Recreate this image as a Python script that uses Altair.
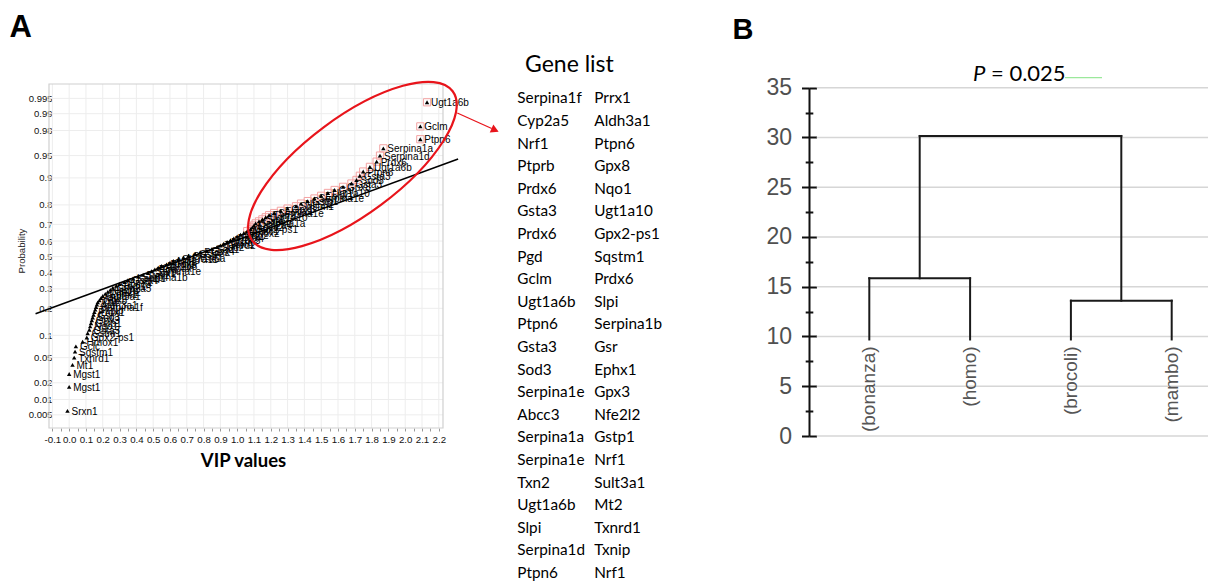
import altair as alt
import pandas as pd
from statistics import NormalDist

W, H = 1200, 576
nd = NormalDist()

# ---------------- Panel A : normal probability plot of VIP values ----------------
vip = [-0.01, 0.0, 0.0, 0.02, 0.03, 0.035, 0.04, 0.08, 0.105, 0.11,
       0.12, 0.125, 0.13, 0.135, 0.14, 0.145, 0.15, 0.155, 0.16, 0.165,
       0.17, 0.18, 0.19, 0.20, 0.215, 0.23, 0.245, 0.26, 0.28, 0.30,
       0.33, 0.35, 0.38, 0.41, 0.44, 0.47, 0.49, 0.51, 0.53, 0.55,
       0.58, 0.60, 0.62, 0.65, 0.68, 0.71, 0.75, 0.78, 0.82, 0.85,
       0.88, 0.90, 0.92, 0.94, 0.96, 0.98, 1.00, 1.02, 1.04, 1.06,
       1.08, 1.09, 1.10, 1.11, 1.13, 1.15, 1.17, 1.19, 1.22, 1.26,
       1.30, 1.35, 1.38, 1.42, 1.46, 1.50, 1.54, 1.58, 1.63, 1.68,
       1.71, 1.73, 1.75, 1.79, 1.83, 1.85, 1.87, 2.09, 2.09, 2.13]
prob = [0.006, 0.017, 0.028, 0.039, 0.05, 0.061, 0.072, 0.083, 0.094, 0.106,
        0.117, 0.128, 0.139, 0.15, 0.161, 0.172, 0.183, 0.194, 0.206, 0.217,
        0.228, 0.239, 0.25, 0.261, 0.272, 0.283, 0.294, 0.306, 0.317, 0.328,
        0.339, 0.35, 0.361, 0.372, 0.383, 0.394, 0.406, 0.417, 0.428, 0.439,
        0.45, 0.461, 0.472, 0.483, 0.494, 0.506, 0.517, 0.528, 0.539, 0.55,
        0.561, 0.572, 0.583, 0.594, 0.606, 0.617, 0.628, 0.639, 0.65, 0.661,
        0.672, 0.683, 0.694, 0.706, 0.717, 0.728, 0.739, 0.75, 0.761, 0.772,
        0.783, 0.794, 0.806, 0.817, 0.828, 0.839, 0.85, 0.861, 0.872, 0.883,
        0.894, 0.906, 0.917, 0.928, 0.939, 0.95, 0.961, 0.972, 0.983, 0.994]
pt_gene = ["Srxn1", "Mgst1", "Mgst1", "Mt1", "Txnrd1", "Sqstm1", "Gclc", "Hmox1", "Gpx2-ps1", "Gstm1",
           "Gsta3", "Nqo1", "Gstp1", "Gpx3", "Sod3", "Gsr", "Prdx1", "Txnip", "Serpina1f", "Aldh3a1",
           "Cat", "Gpx8", "Mt2", "Sult3a1", "Ephx1", "Nfe2l2", "Ptprb", "Cyp2a5", "Srxn1", "Abcc3",
           "Prrx1", "Gsta4", "Keap1", "Serpina1b", "Txn1", "Gpx1", "Serpina1e", "Pgd", "G6pdx", "Akr1b8",
           "Prdx6", "Gclc", "Nrf1", "Slc7a11", "Ugt1a6a", "Ces1g", "Gss", "Prdx2", "Gpx4", "Sod1",
           "Sod2", "Txnrd2", "Gsto1", "Msra", "Prdx3", "Prdx4", "Glrx", "Nqo2", "Hmox2", "Abcc1",
           "Gpx2-ps1", "Abcc2", "Cyp2a4", "Serpina1a", "Gsta1", "Slpi", "Ugt1a10", "Txn2", "Serpina1e", "Ephx1",
           "Gpx3", "Sqstm1", "Nfe2l2", "Gstp1", "Serpina1e", "Ephx1", "Ugt1a10", "Gsr", "Gpx8", "Gsta3",
           "Sod3", "Gsta3", "Ptpn6", "Ugt1a6b", "Prdx6", "Serpina1d", "Serpina1a", "Ptpn6", "Gclm", "Ugt1a6b"]
assert len(vip) == len(prob) == len(pt_gene)

prob_ticks = [0.005, 0.01, 0.02, 0.05, 0.1, 0.2, 0.3, 0.4, 0.5, 0.6, 0.7, 0.8, 0.9, 0.95, 0.98, 0.99, 0.995]
vip_grid = [-0.1, 0.0, 0.1, 0.2, 0.3, 0.4, 0.5, 0.6, 0.7, 0.8, 0.9, 1.0, 1.1, 1.2,
            1.3, 1.4, 1.5, 1.6, 1.7, 1.8, 1.9, 2.0, 2.1, 2.2]
vip_ticks = sorted(set([round(v, 2) for v in vip_grid] + [round(v + 0.05, 2) for v in vip_grid[:-1]]))

fit_vip = [-0.20, 2.315]
fit_prob = [0.176, 0.944]
ellipse_vip = [1.686]
ellipse_prob = [0.930]
arrow_vip = [2.31, 2.515]
arrow_prob = [0.9903, 0.9815]
arrowhead_vip = [2.535]
arrowhead_prob = [0.9803]

dfA = pd.DataFrame({"vip": vip, "prob": prob, "gene": pt_gene})
dfA["z"] = [nd.inv_cdf(p) for p in dfA["prob"]]
df_box = dfA[dfA["vip"] >= 1.06]
df_pticks = pd.DataFrame({"z": [nd.inv_cdf(p) for p in prob_ticks]})
df_vgrid = pd.DataFrame({"v": vip_grid})
df_vticks = pd.DataFrame({"v": vip_ticks})
df_fit = pd.DataFrame({"vip": fit_vip, "z": [nd.inv_cdf(p) for p in fit_prob]})
df_ell = pd.DataFrame({"vip": ellipse_vip, "z": [nd.inv_cdf(p) for p in ellipse_prob]})
df_arrow = pd.DataFrame({"vip": arrow_vip, "z": [nd.inv_cdf(p) for p in arrow_prob]})
df_head = pd.DataFrame({"vip": arrowhead_vip, "z": [nd.inv_cdf(p) for p in arrowhead_prob]})

# ---------------- Gene list ----------------
genes_col1 = ["Serpina1f", "Cyp2a5", "Nrf1", "Ptprb", "Prdx6", "Gsta3", "Prdx6", "Pgd", "Gclm", "Ugt1a6b",
              "Ptpn6", "Gsta3", "Sod3", "Serpina1e", "Abcc3", "Serpina1a", "Serpina1e", "Txn2", "Ugt1a6b",
              "Slpi", "Serpina1d", "Ptpn6"]
genes_col2 = ["Prrx1", "Aldh3a1", "Ptpn6", "Gpx8", "Nqo1", "Ugt1a10", "Gpx2-ps1", "Sqstm1", "Prdx6", "Slpi",
              "Serpina1b", "Gsr", "Ephx1", "Gpx3", "Nfe2l2", "Gstp1", "Nrf1", "Sult3a1", "Mt2", "Txnrd1",
              "Txnip", "Nrf1"]
df_genes = pd.DataFrame({
    "row": list(range(len(genes_col1))) + list(range(len(genes_col2))),
    "col": [0] * len(genes_col1) + [1] * len(genes_col2),
    "name": genes_col1 + genes_col2,
})

# ---------------- Panel B : dendrogram ----------------
leaf_names = ["(bonanza)", "(homo)", "(brocoli)", "(mambo)"]
leaf_pos = [1, 2, 3, 4]
leaf_base = 9.7
merge_left = 15.85   # bonanza + homo
merge_right = 13.6   # brocoli + mambo
merge_root = 30.15
b_ticks = [0, 5, 10, 15, 20, 25, 30, 35]
b_minor = [2.5, 7.5, 12.5, 17.5, 22.5, 27.5, 32.5]

mid_l = (leaf_pos[0] + leaf_pos[1]) / 2
mid_r = (leaf_pos[2] + leaf_pos[3]) / 2
segs = [
    (leaf_pos[0], leaf_pos[0], leaf_base, merge_left),
    (leaf_pos[1], leaf_pos[1], leaf_base, merge_left),
    (leaf_pos[0], leaf_pos[1], merge_left, merge_left),
    (leaf_pos[2], leaf_pos[2], leaf_base, merge_right),
    (leaf_pos[3], leaf_pos[3], leaf_base, merge_right),
    (leaf_pos[2], leaf_pos[3], merge_right, merge_right),
    (mid_l, mid_l, merge_left, merge_root),
    (mid_r, mid_r, merge_right, merge_root),
    (mid_l, mid_r, merge_root, merge_root),
]
df_seg = pd.DataFrame(segs, columns=["x", "x2", "y", "y2"])
df_leaf = pd.DataFrame({"pos": leaf_pos, "name": leaf_names, "base": [leaf_base] * 4})
df_bt = pd.DataFrame({"g": b_ticks})
df_bm = pd.DataFrame({"g": b_minor})

ONE = alt.Data(values=[{"k": 1}])

# ---------------- scales ----------------
xA = alt.Scale(domain=[-0.12, 2.225], range=[41, 435], nice=False, zero=False)
yA = alt.Scale(domain=[-2.79, 2.81], range=[420, 76], nice=False, zero=False)
xG = alt.Scale(domain=[0, 1], range=[509.3, 586.3], nice=False, zero=False)
yG = alt.Scale(domain=[0, 21], range=[90.3, 564.9], nice=False, zero=False)
xB = alt.Scale(domain=[1, 4], range=[861.3, 1163.7], nice=False, zero=False)
yB = alt.Scale(domain=[0, 35], range=[428, 79.7], nice=False, zero=False)

ARIAL = "Liberation Sans"
CAL = "Lato"

layers = []

# --- Panel A grid, frame and axes ---
layers.append(alt.Chart(df_vgrid).mark_rule(color="#ededed", strokeWidth=1).encode(
    x=alt.X("v:Q", scale=xA, axis=None), y=alt.value(76), y2=alt.value(420)))

axis_yA = alt.Axis(orient="left", offset=-41, values=list(df_pticks["z"]),
                   labelExpr="toString(round(cumulativeNormal(datum.value)*1000)/1000)",
                   ticks=False, tickSize=0, domain=False, grid=False, labelOverlap=False,
                   labelFont=ARIAL, labelFontSize=9.5, labelColor="#111", labelPadding=-3,
                   title="Probability", titleFont=ARIAL, titleFontSize=9.6, titleFontWeight="normal",
                   titleColor="#222", titleAngle=270, titleX=-28, titleY=242.5,
                   titleAlign="center", titleBaseline="middle")
layers.append(alt.Chart(df_pticks).mark_rule(color="#ededed", strokeWidth=1).encode(
    y=alt.Y("z:Q", scale=yA, axis=axis_yA), x=alt.value(41), x2=alt.value(435)))

layers.append(alt.Chart(ONE).mark_rect(fillOpacity=0, stroke="#d0d0d0", strokeWidth=1.2).encode(
    x=alt.value(41), x2=alt.value(435), y=alt.value(76), y2=alt.value(420)))

axis_xA = alt.Axis(orient="bottom", offset=-(H - 420), values=vip_ticks,
                   labelExpr="round(datum.value*20) % 2 == 0 ? replace(format(datum.value, '.1f'), '\u2212', '-') : ''",
                   ticks=True, tickSize=3, tickColor="#9a9a9a", domain=False, grid=False,
                   labelOverlap=False, labelFlush=False, labelBound=False,
                   labelFont=ARIAL, labelFontSize=9.7, labelColor="#111", labelPadding=3,
                   title="VIP values", titleFont=CAL, titleFontSize=18.5, titleFontWeight="bold",
                   titleColor="#000", titleX=235, titleY=38, titleAlign="center",
                   titleBaseline="alphabetic")
layers.append(alt.Chart(df_vticks).mark_point(opacity=0).encode(
    x=alt.X("v:Q", scale=xA, axis=axis_xA)))

# --- Panel A points ---
layers.append(alt.Chart(df_box).mark_point(shape="square", filled=False, color="#f4a3a3",
                                           size=52, strokeWidth=1, opacity=1).encode(
    x=alt.X("vip:Q", scale=xA, axis=None), y=alt.Y("z:Q", scale=yA, axis=None)))
layers.append(alt.Chart(dfA).mark_point(shape="triangle-up", filled=True, color="#000",
                                        size=20, opacity=1).encode(
    x=alt.X("vip:Q", scale=xA, axis=None), y=alt.Y("z:Q", scale=yA, axis=None)))
layers.append(alt.Chart(dfA).mark_text(align="left", baseline="middle", dx=4, dy=1,
                                       font=ARIAL, fontSize=10, color="#000").encode(
    x=alt.X("vip:Q", scale=xA, axis=None), y=alt.Y("z:Q", scale=yA, axis=None), text="gene:N"))

layers.append(alt.Chart(df_fit).mark_line(color="#000", strokeWidth=1.6).encode(
    x=alt.X("vip:Q", scale=xA, axis=None), y=alt.Y("z:Q", scale=yA, axis=None)))

r, k = 0.386, 0.5523
kr = round(k * r, 4)
ell_path = (f"M 1 0 C 1 {kr} {k} {r} 0 {r} C {-k} {r} -1 {kr} -1 0 "
            f"C -1 {-kr} {-k} {-r} 0 {-r} C {k} {-r} 1 {-kr} 1 0 Z")
layers.append(alt.Chart(df_ell).mark_point(shape=ell_path, filled=False, color="#e8141b",
                                           strokeWidth=2.2, size=62500, angle=323.3, opacity=1).encode(
    x=alt.X("vip:Q", scale=xA, axis=None), y=alt.Y("z:Q", scale=yA, axis=None)))
layers.append(alt.Chart(df_arrow).mark_line(color="#e8141b", strokeWidth=1.3).encode(
    x=alt.X("vip:Q", scale=xA, axis=None), y=alt.Y("z:Q", scale=yA, axis=None)))
layers.append(alt.Chart(df_head).mark_point(shape="triangle-right", filled=True, color="#e8141b",
                                            size=80, angle=23.8, opacity=1).encode(
    x=alt.X("vip:Q", scale=xA, axis=None), y=alt.Y("z:Q", scale=yA, axis=None)))

# --- Gene list ---
layers.append(alt.Chart(ONE).mark_text(align="left", baseline="middle", font=CAL, fontSize=23,
                                       color="#000", text="Gene list").encode(
    x=alt.value(517), y=alt.value(57)))
layers.append(alt.Chart(df_genes).mark_text(align="left", baseline="middle", font=CAL,
                                            fontSize=15.3, color="#000").encode(
    x=alt.X("col:Q", scale=xG, axis=None), y=alt.Y("row:Q", scale=yG, axis=None), text="name:N"))

# --- Panel B ---
layers.append(alt.Chart(df_bt).mark_rule(color="#d6d6d6", strokeWidth=1.5).encode(
    y=alt.Y("g:Q", scale=yB, axis=None), x=alt.value(808.7), x2=alt.value(W)))

axis_B = alt.Axis(orient="left", offset=-801, values=b_ticks, domain=True, domainColor="#111",
                  domainWidth=2, ticks=True, tickColor="#111", tickWidth=2, tickSize=7.5,
                  grid=False, labelFont=ARIAL, labelFontSize=23, labelColor="#505050",
                  labelPadding=10, labelOverlap=False, labelFlush=False, title=None)
layers.append(alt.Chart(df_bt).mark_point(opacity=0).encode(y=alt.Y("g:Q", scale=yB, axis=axis_B)))
axis_Bm = alt.Axis(orient="left", offset=-801, values=b_minor, domain=False, ticks=True,
                   tickColor="#111", tickWidth=2, tickSize=3.8, labels=False, grid=False, title=None)
layers.append(alt.Chart(df_bm).mark_point(opacity=0).encode(y=alt.Y("g:Q", scale=yB, axis=axis_Bm)))
axis_Br = alt.Axis(orient="right", offset=801 - W, values=b_ticks, domain=False, ticks=True,
                   tickColor="#111", tickWidth=2, tickSize=7.5, labels=False, grid=False, title=None)
layers.append(alt.Chart(df_bt).mark_point(opacity=0).encode(y=alt.Y("g:Q", scale=yB, axis=axis_Br)))
axis_Brm = alt.Axis(orient="right", offset=801 - W, values=b_minor, domain=False, ticks=True,
                    tickColor="#111", tickWidth=2, tickSize=3.8, labels=False, grid=False, title=None)
layers.append(alt.Chart(df_bm).mark_point(opacity=0).encode(y=alt.Y("g:Q", scale=yB, axis=axis_Brm)))

layers.append(alt.Chart(df_seg).mark_rule(color="#1a1a1a", strokeWidth=2, strokeCap="square").encode(
    x=alt.X("x:Q", scale=xB, axis=None), x2="x2:Q",
    y=alt.Y("y:Q", scale=yB, axis=None), y2="y2:Q"))
layers.append(alt.Chart(df_leaf).mark_text(angle=270, align="right", baseline="middle", dx=-7,
                                           font=ARIAL, fontSize=19, color="#555").encode(
    x=alt.X("pos:Q", scale=xB, axis=None), y=alt.Y("base:Q", scale=yB, axis=None), text="name:N"))

layers.append(alt.Chart(ONE).mark_text(align="left", baseline="middle", font=CAL, fontSize=22,
                                       fontStyle="italic", color="#000", text="P").encode(
    x=alt.value(965), y=alt.value(66.3)))
layers.append(alt.Chart(ONE).mark_text(align="left", baseline="middle", font=CAL, fontSize=22,
                                       color="#000", text="= 0.025").encode(
    x=alt.value(983), y=alt.value(66.3)))
layers.append(alt.Chart(ONE).mark_rule(color="#9be89b", strokeWidth=1.2).encode(
    x=alt.value(1057), x2=alt.value(1094), y=alt.value(69.7)))

# --- panel letters ---
layers.append(alt.Chart(ONE).mark_text(align="left", baseline="alphabetic", font=ARIAL, fontSize=31,
                                       fontWeight="bold", color="#000", text="A").encode(
    x=alt.value(1.5), y=alt.value(29.3)))
layers.append(alt.Chart(ONE).mark_text(align="left", baseline="alphabetic", font=ARIAL, fontSize=29,
                                       fontWeight="bold", color="#000", text="B").encode(
    x=alt.value(724.5), y=alt.value(31.3)))

chart = alt.layer(*layers).resolve_scale(
    x="independent", y="independent"
).resolve_axis(
    x="independent", y="independent"
).properties(
    width=W, height=H, padding=0, background="white",
    autosize=alt.AutoSizeParams(type="none")
).configure_view(stroke=None)

chart.save("out.html", embed_options={"renderer": "svg", "actions": False})
